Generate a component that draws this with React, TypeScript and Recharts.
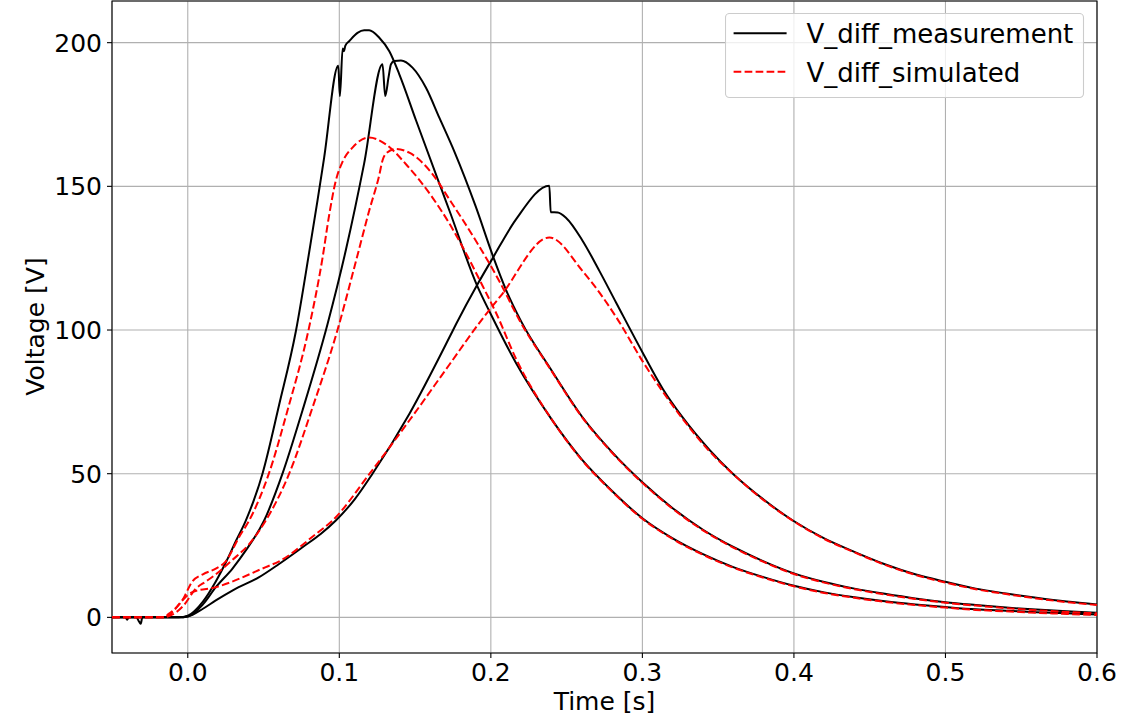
import { LineChart, Line, XAxis, YAxis, CartesianGrid, ReferenceArea, Legend } from 'recharts';

const timeTicks = [0, 0.1, 0.2, 0.3, 0.4, 0.5, 0.6];
const voltageTicks = [0, 50, 100, 150, 200];

// [time in s, voltage in V]
const measuredA = [
  [-0.05, 0], [-0.045, 0], [-0.041, 0], [-0.04, -0.8], [-0.039, 0], [-0.034, 0], [-0.032, -1.6],
  [-0.031, -2.2], [-0.03, 0], [-0.02, 0], [-0.006, 0], [0, 0.6], [0.005, 2.5], [0.01, 5.5],
  [0.0185, 12.5], [0.025, 19], [0.0317, 26.5], [0.0383, 33.7], [0.0493, 50], [0.0603, 74],
  [0.0713, 99.5], [0.0801, 127], [0.0856, 145], [0.09, 160], [0.0993, 192], [0.1004, 181.4],
  [0.1022, 198], [0.103, 197], [0.104, 199], [0.1065, 200.5], [0.112, 203.4], [0.1164, 204.3],
  [0.1197, 204.3], [0.1264, 201.7], [0.133, 197], [0.1396, 189], [0.1506, 173], [0.166, 151],
  [0.1727, 141.5], [0.1913, 115], [0.2, 105.5], [0.2166, 88.5], [0.24, 69], [0.26, 55], [0.28, 44],
  [0.3, 34.5], [0.32, 27.5], [0.34, 22], [0.36, 17.5], [0.38, 14], [0.4, 11], [0.42, 8.7],
  [0.44, 7], [0.46, 5.6], [0.48, 4.5], [0.5, 3.6], [0.52, 2.8], [0.54, 2.3], [0.56, 1.8],
  [0.58, 1.4], [0.6, 1.0],
];

const measuredB = [
  [-0.05, 0], [-0.006, 0], [0, 0.3], [0.01, 4.5], [0.0185, 10.5], [0.0295, 17], [0.0383, 23.3],
  [0.0504, 33.7], [0.0625, 50], [0.0757, 72], [0.0922, 102], [0.1044, 128], [0.1164, 158],
  [0.1285, 192.5], [0.1303, 181.4], [0.1325, 188], [0.1341, 192.5], [0.1363, 193.6],
  [0.1407, 193.8], [0.1483, 191.3], [0.1572, 184.3], [0.166, 173.9], [0.176, 162], [0.19, 143],
  [0.2012, 126], [0.21, 114], [0.22, 103], [0.24, 86], [0.26, 70], [0.28, 57.5], [0.3, 47],
  [0.32, 38], [0.34, 30.5], [0.36, 24.5], [0.38, 19.5], [0.4, 15.3], [0.42, 12.3], [0.44, 10],
  [0.46, 8.2], [0.48, 6.6], [0.5, 5.3], [0.52, 4.3], [0.54, 3.4], [0.56, 2.7], [0.58, 2.1],
  [0.6, 1.6],
];

const measuredC = [
  [-0.05, 0], [-0.006, 0], [0, 0.3], [0.01, 3], [0.0185, 5.9], [0.03, 9.5], [0.0471, 14],
  [0.06, 18.5], [0.0757, 24.4], [0.0877, 29], [0.0977, 33.7], [0.11, 41], [0.1219, 50],
  [0.1462, 70.8], [0.1726, 97.4], [0.177, 102], [0.1913, 116], [0.2012, 125], [0.2166, 138.5],
  [0.2386, 150.2], [0.2395, 141], [0.2441, 140.9], [0.2497, 139], [0.2606, 131], [0.2717, 120.5],
  [0.2827, 109.5], [0.3003, 92], [0.3135, 79.5], [0.3267, 69.5], [0.3443, 58.3], [0.3597, 50],
  [0.38, 41], [0.3993, 33.7], [0.42, 27.5], [0.4368, 23.5], [0.46, 18.5], [0.48, 15],
  [0.5007, 12.3], [0.52, 10], [0.54, 8.3], [0.56, 6.8], [0.58, 5.5], [0.6, 4.5],
];

const simulatedA = [
  [-0.05, 0], [-0.016, 0], [-0.0124, 1.3], [-0.0036, 5.9], [0.003, 12.5], [0.01, 15],
  [0.0185, 17], [0.0251, 19.5], [0.0339, 28], [0.0405, 33.7], [0.0535, 50], [0.0658, 72],
  [0.0801, 101], [0.0889, 125], [0.0933, 140], [0.0977, 152], [0.1021, 158.5], [0.1087, 163.5],
  [0.1197, 167], [0.1308, 164.6], [0.144, 157.7], [0.1616, 146], [0.1727, 137], [0.1792, 131],
  [0.1968, 113], [0.2034, 106], [0.2166, 90], [0.24, 69], [0.26, 54.8], [0.28, 43.8],
  [0.3, 34.3], [0.32, 27.3], [0.34, 21.8], [0.36, 17.3], [0.38, 13.8], [0.4, 10.8], [0.42, 8.5],
  [0.44, 6.8], [0.46, 5.4], [0.48, 4.3], [0.5, 3.4], [0.52, 2.6], [0.54, 2.1], [0.56, 1.6],
  [0.58, 1.2], [0.6, 0.8],
];

const simulatedB = [
  [-0.05, 0], [-0.016, 0], [-0.01, 1], [-0.003, 4], [0.0053, 10], [0.012, 12.5], [0.0185, 15],
  [0.0295, 20], [0.0405, 25.5], [0.0515, 33.7], [0.0669, 50], [0.0823, 73], [0.0988, 100],
  [0.111, 124], [0.1197, 141.5], [0.1264, 154], [0.1285, 159], [0.131, 161.5], [0.1374, 163],
  [0.1462, 161.7], [0.1616, 154.2], [0.1726, 145.5], [0.1902, 131], [0.2056, 117],
  [0.2188, 103.5], [0.24, 85.8], [0.26, 69.8], [0.28, 57.3], [0.3, 46.8], [0.32, 37.8],
  [0.34, 30.3], [0.36, 24.3], [0.38, 19.3], [0.4, 15.1], [0.42, 12.1], [0.44, 9.8], [0.46, 8],
  [0.48, 6.4], [0.5, 5.1], [0.52, 4.1], [0.54, 3.2], [0.56, 2.5], [0.58, 1.9], [0.6, 1.4],
];

const simulatedC = [
  [-0.05, 0], [-0.016, 0], [-0.0124, 0.7], [-0.0036, 5.9], [0.003, 8.8], [0.0185, 10.5],
  [0.0515, 17.5], [0.0603, 19.5], [0.0845, 29], [0.0955, 33.7], [0.12, 50], [0.1462, 68.5],
  [0.1727, 88], [0.1946, 104], [0.2067, 112], [0.2386, 132.2], [0.2606, 120.5], [0.2717, 113],
  [0.2827, 104.5], [0.3003, 89], [0.3135, 78.5], [0.3267, 69], [0.3443, 57.8], [0.36, 49.8],
  [0.38, 40.8], [0.4, 33.4], [0.42, 27.3], [0.44, 22.6], [0.46, 18.3], [0.48, 14.8], [0.5, 12.1],
  [0.52, 9.8], [0.54, 8.1], [0.56, 6.6], [0.58, 5.3], [0.6, 4.3],
];

const measuredSeries = [measuredA, measuredB, measuredC];
const simulatedSeries = [simulatedA, simulatedB, simulatedC];

const toPoints = (pairs: number[][]) => pairs.map(([t, v]) => ({ t, v }));

const FONT = '"DejaVu Sans", sans-serif';
const DASH = '7.7 3.3';

function LegendBox() {
  return (
    <svg width={360} height={86} style={{ display: 'block' }}>
      <rect x={0.5} y={0.5} width={358} height={84} rx={4} fill="rgba(255,255,255,0.8)" stroke="#cccccc" strokeWidth={1.1} />
      <line x1={8.6} x2={61.6} y1={20.3} y2={20.3} stroke="#000" strokeWidth={2} />
      <line x1={8.6} x2={61.6} y1={58.7} y2={58.7} stroke="#ff0000" strokeWidth={2} strokeDasharray={DASH} />
      <text x={81.5} y={30.3} fontFamily={FONT} fontSize={26} fill="#000">V_diff_measurement</text>
      <text x={81.5} y={68.7} fontFamily={FONT} fontSize={26} fill="#000">V_diff_simulated</text>
    </svg>
  );
}

export default function App() {
  return (
    <div style={{ position: 'absolute', left: 0, top: 0 }}>
      <LineChart width={1141} height={717} margin={{ top: 1, right: 44, bottom: 0, left: 0 }}>
        <CartesianGrid stroke="#b0b0b0" strokeWidth={1.1} />
        <XAxis
          type="number"
          dataKey="t"
          domain={[-0.05, 0.6]}
          ticks={timeTicks}
          allowDataOverflow
          height={64}
          tickFormatter={(v) => v.toFixed(1)}
          tick={{ fill: '#000', fontSize: 25, fontFamily: FONT }}
          tickSize={5}
          tickMargin={5}
          axisLine={false}
          tickLine={{ stroke: '#000', strokeWidth: 1.1 }}
          label={() => (
            <text x={604.5} y={710} textAnchor="middle" fontFamily={FONT} fontSize={25} fill="#000">
              Time [s]
            </text>
          )}
        />
        <YAxis
          type="number"
          domain={[-12.4, 214.5]}
          ticks={voltageTicks}
          allowDataOverflow
          width={112}
          tick={{ fill: '#000', fontSize: 25, fontFamily: FONT }}
          tickSize={5}
          tickMargin={5}
          axisLine={false}
          tickLine={{ stroke: '#000', strokeWidth: 1.1 }}
          label={() => (
            <text x={44} y={326.5} transform="rotate(-90 44 326.5)" textAnchor="middle" fontFamily={FONT} fontSize={25} fill="#000">
              Voltage [V]
            </text>
          )}
        />
        {measuredSeries.map((s, i) => (
          <Line
            key={'m' + i}
            data={toPoints(s)}
            dataKey="v"
            type="monotone"
            stroke="#000"
            strokeWidth={2}
            dot={false}
            activeDot={false}
            isAnimationActive={false}
          />
        ))}
        {simulatedSeries.map((s, i) => (
          <Line
            key={'s' + i}
            data={toPoints(s)}
            dataKey="v"
            type="monotone"
            stroke="#ff0000"
            strokeWidth={2}
            strokeDasharray={DASH}
            dot={false}
            activeDot={false}
            isAnimationActive={false}
          />
        ))}
        <ReferenceArea x1={-0.05} x2={0.6} y1={-12.4} y2={214.5} fill="none" stroke="#000" strokeWidth={1.1} ifOverflow="visible" />
        <Legend
          content={() => <LegendBox />}
          layout="horizontal"
          verticalAlign="middle"
          align="center"
          wrapperStyle={{ left: 725, top: 13, width: 360, height: 86 }}
        />
      </LineChart>
    </div>
  );
}
